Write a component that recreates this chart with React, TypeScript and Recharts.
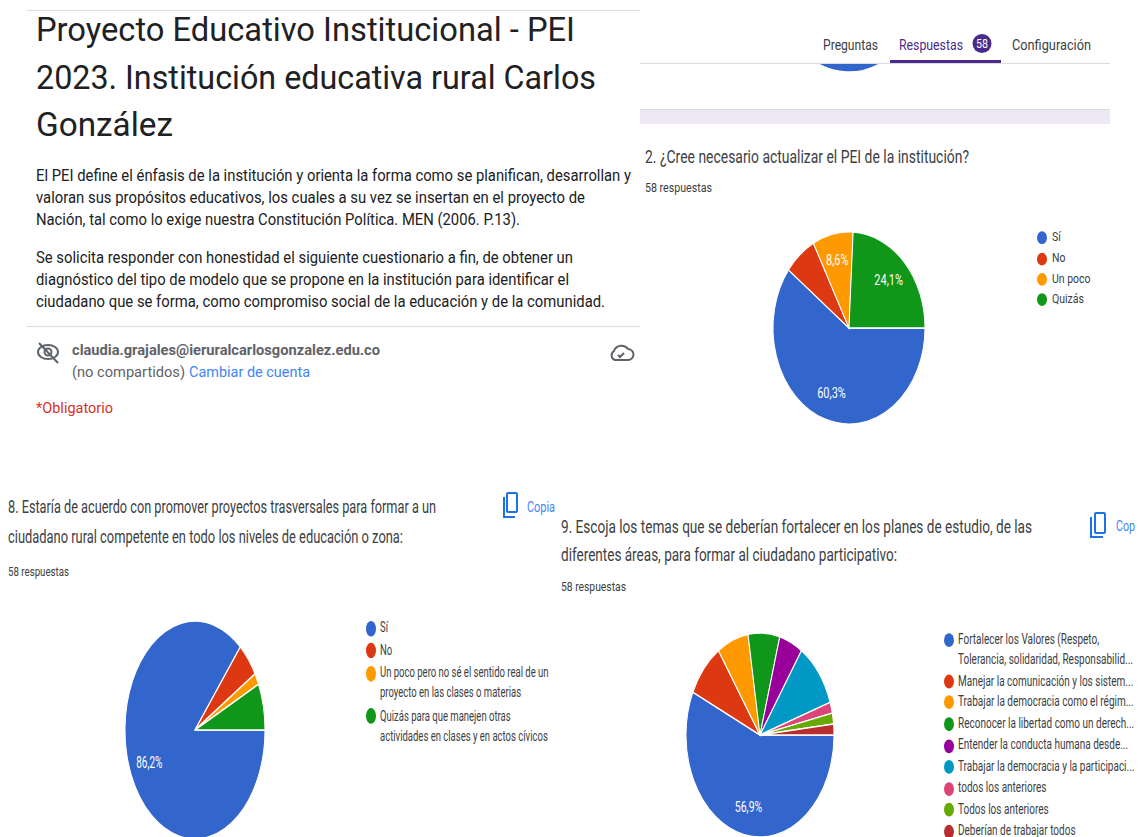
import React from 'react'
import { PieChart, Pie, Legend } from 'recharts'

const palette = ['#3366cc', '#dc3912', '#ff9900', '#109618', '#990099', '#0099c6', '#dd4477', '#66aa00', '#b82e2e']

// counts out of 58 respuestas
const q2Labels = ['Sí', 'No', 'Un poco', 'Quizás']
const q2Values = [35, 4, 5, 14]

const q8Labels = [
  'Sí',
  'No',
  'Un poco pero no sé el sentido real de un\nproyecto en las clases o materias',
  'Quizás para que manejen otras\nactividades en clases y en actos cívicos',
]
const q8Values = [50, 3, 1, 4]

const q9Labels = [
  'Fortalecer los Valores (Respeto,\nTolerancia, solidaridad, Responsabilid...',
  'Manejar la comunicación y los sistem...',
  'Trabajar la democracia como el régim...',
  'Reconocer la libertad como un derech...',
  'Entender la conducta humana desde...',
  'Trabajar la democracia y la participaci...',
  'todos los anteriores',
  'Todos los anteriores',
  'Deberían de trabajar todos',
]
const q9Values = [33, 5, 4, 4, 3, 6, 1, 1, 1]

const topLabels = ['Sí']
const topValues = [58]

const toRows = (labels: string[], values: number[]) =>
  labels.map((name, i) => ({ name, value: values[i], fill: palette[i] }))

const pctLabel = (minShare: number, size: number) => (p: any) => {
  if (p.percent < minShare) return null
  const rad = (-p.midAngle * Math.PI) / 180
  const x = p.cx + p.outerRadius * 0.72 * Math.cos(rad)
  const y = p.cy + p.outerRadius * 0.72 * Math.sin(rad)
  return (
    <text x={x} y={y} fill="#fff" fontSize={size} fontFamily="Roboto" textAnchor="middle" dominantBaseline="central">
      {(p.percent * 100).toFixed(1).replace('.', ',')}%
    </text>
  )
}

const legendContent = (size: number, lineH: number, gap: number, dot: number, dotGap: number) => (props: any) => (
  <div style={{ fontFamily: 'Roboto', fontSize: size, lineHeight: `${lineH}px`, color: '#3c4043' }}>
    {props.payload.map((item: any) => (
      <div key={item.value} style={{ display: 'flex', marginBottom: gap, whiteSpace: 'pre' }}>
        <span
          style={{
            width: dot,
            height: dot,
            borderRadius: '50%',
            background: item.color,
            marginTop: (lineH - dot) / 2,
            marginRight: dotGap,
            flex: 'none',
          }}
        />
        <span>{item.value}</span>
      </div>
    ))}
  </div>
)

// everything is given in page pixels, the chart is stretched vertically like the screenshot
function FormPie(props: any) {
  const { rows, left, top, width, height, centerX, centerY, rx, ry, minShare, labelSize, legend } = props
  const sy = ry / rx
  return (
    <div style={{ position: 'absolute', left, top, transform: `scale(1, ${sy})`, transformOrigin: '0 0' }}>
      <PieChart width={width} height={height / sy} margin={{ top: 0, right: 0, bottom: 0, left: 0 }}>
        <Pie
          data={rows}
          dataKey="value"
          nameKey="name"
          cx={centerX - left}
          cy={(centerY - top) / sy}
          outerRadius={rx}
          startAngle={0}
          endAngle={-360}
          stroke="#fff"
          strokeWidth={1}
          label={pctLabel(minShare, labelSize)}
          labelLine={false}
          isAnimationActive={false}
        />
        {legend && (
          <Legend
            itemSorter={null}
            content={legendContent(legend.size, legend.lineH / sy, legend.gap / sy, legend.dot, legend.dotGap)}
            wrapperStyle={{ position: 'absolute', left: legend.x - left, top: (legend.y - top) / sy, width: 'auto', bottom: 'auto' }}
          />
        )}
      </PieChart>
    </div>
  )
}

// line of text squeezed to the width it has in the screenshot
function T({ x, y, w, size, fill = '#202124', weight = 400, children }: any) {
  return (
    <text x={x} y={y} textLength={w} lengthAdjust="spacingAndGlyphs" fontSize={size} fontWeight={weight} fill={fill} fontFamily="Roboto">
      {children}
    </text>
  )
}

export default function App() {
  return (
    <div style={{ position: 'absolute', left: 0, top: 0, width: 1140, height: 837, overflow: 'hidden', background: '#fff' }}>
      <div style={{ position: 'absolute', left: 640, top: 64, width: 470, height: 12, overflow: 'hidden' }}>
        <FormPie rows={toRows(topLabels, topValues)} left={109} top={-214} width={200} height={252} centerX={209} centerY={-88} rx={76} ry={96} minShare={2} labelSize={11} />
      </div>

      <FormPie
        rows={toRows(q2Labels, q2Values)}
        left={640}
        top={220}
        width={470}
        height={215}
        centerX={849}
        centerY={328}
        rx={76}
        ry={96}
        minShare={0.08}
        labelSize={11}
        legend={{ x: 1037, y: 228, size: 10.5, lineH: 20.4, gap: 0, dot: 10, dotGap: 5 }}
      />
      <FormPie
        rows={toRows(q8Labels, q8Values)}
        left={0}
        top={610}
        width={555}
        height={240}
        centerX={195}
        centerY={730}
        rx={70}
        ry={109}
        minShare={0.5}
        labelSize={10}
        legend={{ x: 366, y: 618, size: 9.5, lineH: 20, gap: 2.8, dot: 10, dotGap: 4 }}
      />
      <FormPie
        rows={toRows(q9Labels, q9Values)}
        left={600}
        top={625}
        width={540}
        height={225}
        centerX={760}
        centerY={735}
        rx={74}
        ry={102}
        minShare={0.5}
        labelSize={10.5}
        legend={{ x: 944, y: 630, size: 10, lineH: 20, gap: 1.4, dot: 10, dotGap: 4 }}
      />

      <svg width={1140} height={837} style={{ position: 'absolute', left: 0, top: 0 }}>
        <rect x={27} y={10} width={613} height={1} fill="#dadce0" />
        <rect x={27} y={326} width={613} height={1} fill="#dadce0" />
        <T x={36} y={41} w={539} size={33}>Proyecto Educativo Institucional - PEI</T>
        <T x={36} y={89} w={560} size={33}>2023. Institución educativa rural Carlos</T>
        <T x={36} y={136} w={137} size={33}>González</T>
        <T x={36} y={181} w={595} size={16.5}>El PEI define el énfasis de la institución y orienta la forma como se planifican, desarrollan y</T>
        <T x={36} y={203} w={549} size={16.5}>valoran sus propósitos educativos, los cuales a su vez se insertan en el proyecto de</T>
        <T x={36} y={225} w={484} size={16.5}>Nación, tal como lo exige nuestra Constitución Política. MEN (2006. P.13).</T>
        <T x={36} y={263} w={537} size={16.5}>Se solicita responder con honestidad el siguiente cuestionario a fin, de obtener un</T>
        <T x={36} y={285} w={533} size={16.5}>diagnóstico del tipo de modelo que se propone en la institución para identificar el</T>
        <T x={36} y={307} w={569} size={16.5}>ciudadano que se forma, como compromiso social de la educación y de la comunidad.</T>

        <g fill="none" stroke="#5f6368" strokeWidth={2}>
          <ellipse cx={48} cy={352} rx={10} ry={7} />
          <circle cx={48} cy={352} r={3.5} />
          <path d="M39 343 L58 363" />
        </g>
        <T x={72} y={355} w={308} size={15.5} fill="#5f6368" weight={700}>claudia.grajales@ieruralcarlosgonzalez.edu.co</T>
        <T x={72} y={377} w={113} size={15.5} fill="#5f6368">(no compartidos)</T>
        <T x={189} y={377} w={121} size={15.5} fill="#4285f4">Cambiar de cuenta</T>
        <g fill="none" stroke="#5f6368" strokeWidth={2}>
          <path d="M615 360 a5 5 0 0 1 -1 -9 a8 8 0 0 1 14 -2 a5.5 5.5 0 0 1 0 11 z" />
          <path d="M618 355 l2 2 l4 -4" />
        </g>
        <T x={36} y={413} w={77} size={15.5} fill="#d93025">*Obligatorio</T>

        <T x={823} y={50} w={55} size={14.5} fill="#3c4043">Preguntas</T>
        <T x={899} y={50} w={64} size={14.5} fill="#4a2a8a">Respuestas</T>
        <circle cx={982} cy={43.5} r={9.5} fill="#4a2a8a" />
        <T x={976} y={48} w={12} size={12} fill="#fff">58</T>
        <T x={1012} y={50} w={79} size={14.5} fill="#3c4043">Configuración</T>
        <rect x={640} y={63} width={470} height={1} fill="#dadce0" />
        <rect x={890} y={60} width={111} height={3} fill="#4a2a8a" />
        <rect x={640} y={109} width={470} height={1} fill="#dadce0" />
        <rect x={640} y={110} width={470} height={14} fill="#ede7f6" />

        <T x={645} y={163} w={324} size={17.5} fill="#3c4043">2. ¿Cree necesario actualizar el PEI de la institución?</T>
        <T x={645} y={192} w={67} size={13.5} fill="#3c4043">58 respuestas</T>

        <T x={8} y={513} w={428} size={17.5} fill="#3c4043">8. Estaría de acuerdo con promover proyectos trasversales para formar a un</T>
        <T x={8} y={543} w={395} size={17.5} fill="#3c4043">ciudadano rural competente en todo los niveles de educación o zona:</T>
        <T x={8} y={576} w={61} size={13.5} fill="#3c4043">58 respuestas</T>
        <g fill="none" stroke="#1a73e8" strokeWidth={2}>
          <rect x={507} y={493} width={10} height={19} rx={1} />
          <path d="M504 497 v20 h11" />
        </g>
        <T x={527} y={512} w={28} size={15} fill="#4285f4">Copia</T>

        <T x={561} y={533} w={471} size={17.5} fill="#3c4043">9. Escoja los temas que se deberían fortalecer en los planes de estudio, de las</T>
        <T x={561} y={561} w={336} size={17.5} fill="#3c4043">diferentes áreas, para formar al ciudadano participativo:</T>
        <T x={561} y={591} w={65} size={13.5} fill="#3c4043">58 respuestas</T>
        <g fill="none" stroke="#1a73e8" strokeWidth={2}>
          <rect x={1095} y={513} width={10} height={20} rx={1} />
          <path d="M1091 517 v20 h12" />
        </g>
        <T x={1116} y={531} w={19} size={15} fill="#4285f4">Cop</T>
      </svg>
    </div>
  )
}
